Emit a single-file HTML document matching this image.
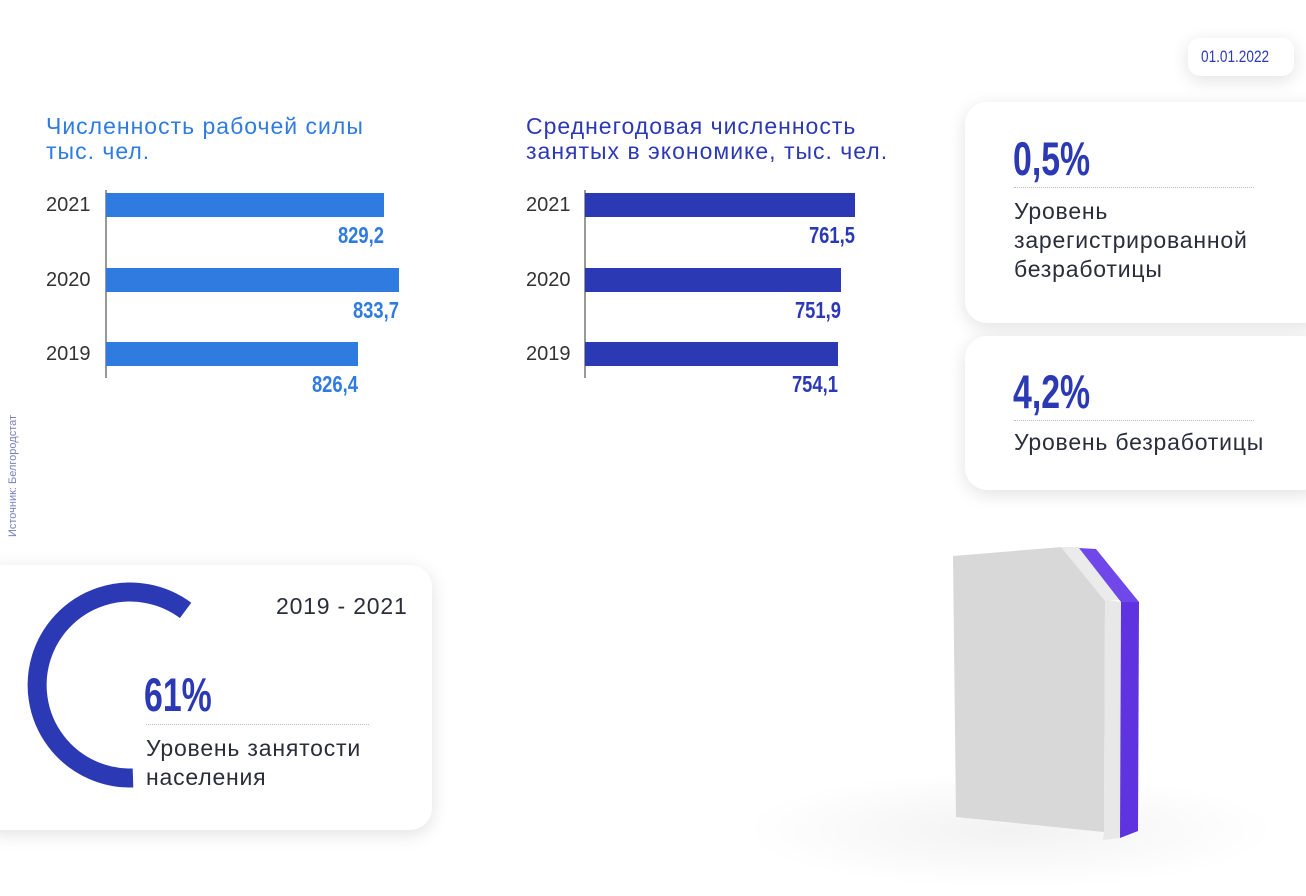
<!DOCTYPE html>
<html><head><meta charset="utf-8"><style>
*{margin:0;padding:0;box-sizing:border-box}
body{width:1306px;height:896px;background:#fff;position:relative;overflow:hidden;font-family:"Liberation Sans",sans-serif;color:#2a2d3a}
.a{position:absolute}
.card{position:absolute;background:#fff;border-radius:22px;box-shadow:0 4px 18px rgba(0,0,0,.12)}
.t{font-size:23px;line-height:25px;letter-spacing:1px}
.yr{font-size:20px;color:#333}
.bar{position:absolute;height:24px}
.val{position:absolute;font-weight:bold;font-size:23px;text-align:right;width:100px;transform:scaleX(0.8);transform-origin:right}
.big{font-weight:bold;font-size:50px;color:#2c39b5;transform:scaleX(0.72);transform-origin:left}
.dot{position:absolute;border-top:1.5px dotted #bbb}
.lbl{font-size:23px;line-height:29px;color:#2a2d3a;letter-spacing:0.8px}
</style></head><body>
<div class="card" style="left:1188px;top:38px;width:106px;height:38px;border-radius:12px"></div>
<div class="a" style="left:1201px;top:47px;font-size:17px;color:#2c39b5;transform:scaleX(0.8);transform-origin:left">01.01.2022</div>

<div class="a t" style="left:46px;top:114px;color:#2f7be0">Численность рабочей силы<br>тыс. чел.</div>
<div class="a" style="left:105px;top:190px;width:1.5px;height:188px;background:#999"></div>
<div class="a yr" style="left:46px;top:194px">2021</div>
<div class="a yr" style="left:46px;top:269px">2020</div>
<div class="a yr" style="left:46px;top:343px">2019</div>
<div class="bar" style="left:106px;top:193px;width:278px;background:#2f7be0"></div>
<div class="bar" style="left:106px;top:268px;width:293px;background:#2f7be0"></div>
<div class="bar" style="left:106px;top:342px;width:252px;background:#2f7be0"></div>
<div class="val" style="left:284px;top:222px;color:#2f7be0">829,2</div>
<div class="val" style="left:299px;top:297px;color:#2f7be0">833,7</div>
<div class="val" style="left:258px;top:371px;color:#2f7be0">826,4</div>

<div class="a t" style="left:526px;top:114px;color:#2c39b5">Среднегодовая численность<br>занятых в экономике, тыс. чел.</div>
<div class="a" style="left:584px;top:190px;width:1.5px;height:188px;background:#999"></div>
<div class="a yr" style="left:526px;top:194px">2021</div>
<div class="a yr" style="left:526px;top:269px">2020</div>
<div class="a yr" style="left:526px;top:343px">2019</div>
<div class="bar" style="left:585px;top:193px;width:270px;background:#2c39b5"></div>
<div class="bar" style="left:585px;top:268px;width:256px;background:#2c39b5"></div>
<div class="bar" style="left:585px;top:342px;width:253px;background:#2c39b5"></div>
<div class="val" style="left:755px;top:222px;color:#2c39b5">761,5</div>
<div class="val" style="left:741px;top:297px;color:#2c39b5">751,9</div>
<div class="val" style="left:738px;top:371px;color:#2c39b5">754,1</div>

<div class="card" style="left:965px;top:102px;width:360px;height:221px"></div>
<div class="a big" style="left:1013px;top:131px;font-size:47px">0,5%</div>
<div class="dot" style="left:1014px;top:187px;width:240px"></div>
<div class="a lbl" style="left:1014px;top:197px">Уровень<br>зарегистрированной<br>безработицы</div>

<div class="card" style="left:965px;top:336px;width:360px;height:154px"></div>
<div class="a big" style="left:1013px;top:364px;font-size:47px">4,2%</div>
<div class="dot" style="left:1014px;top:420px;width:240px"></div>
<div class="a lbl" style="left:1014px;top:428px">Уровень безработицы</div>

<div class="a" style="left:-62px;top:470px;transform:rotate(-90deg);font-size:11px;color:#7a7fc0;width:150px;text-align:center">Источник: Белгородстат</div>

<div class="card" style="left:-20px;top:565px;width:452px;height:265px"></div>
<svg class="a" style="left:0;top:560px" width="260" height="260">
<path d="M133 218 A93 93 0 1 1 185.6 50.4" fill="none" stroke="#2c39b5" stroke-width="19"/>
</svg>
<div class="a" style="left:276px;top:593px;font-size:23px;color:#2a2d3a;letter-spacing:0.8px">2019 - 2021</div>
<div class="a big" style="left:144px;top:667px;font-size:47px">61%</div>
<div class="dot" style="left:146px;top:724px;width:223px"></div>
<div class="a lbl" style="left:146px;top:734px">Уровень занятости<br>населения</div>

<div class="a" style="left:740px;top:770px;width:540px;height:120px;border-radius:50%;background:radial-gradient(ellipse,rgba(0,0,0,.05),rgba(0,0,0,0) 70%)"></div>
<svg class="a" style="left:940px;top:540px" width="220" height="300">
<polygon points="13,16 122,7 165,60 164,292 16,277" fill="#d8d8d8"/>
<polygon points="121,7 139,7 181,60 165,61" fill="#ebebeb"/>
<polygon points="139,8 156,9 199,62 181,62" fill="#7048ea"/>
<polygon points="165,60 181,62 180,298 163,300 164,292" fill="#e8e8e8"/>
<polygon points="181,62 199,62 198,291 180,298" fill="#6033e0"/>
</svg>
</body></html>
